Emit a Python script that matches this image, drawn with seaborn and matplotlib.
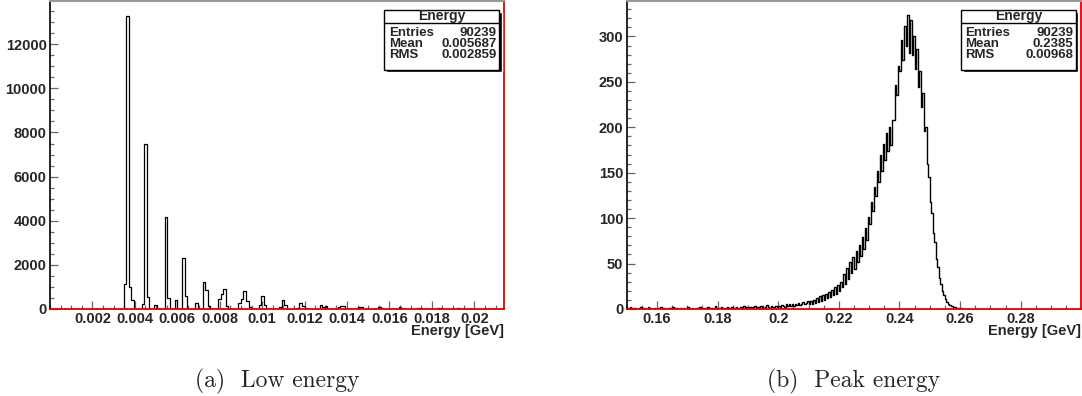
import numpy as np
import pandas as pd
import matplotlib
matplotlib.use('Agg')
import matplotlib.pyplot as plt
import seaborn as sns
from matplotlib.patches import Rectangle

# Low energy histogram, only the non-empty bins (bin centre in GeV, entries)
low_energy = [0.00354, 0.00366, 0.00378, 0.00390, 0.00438, 0.00450, 0.00462, 0.00498,
              0.00546, 0.00558, 0.00594, 0.00630, 0.00642, 0.00690, 0.00726, 0.00738,
              0.00750, 0.00798, 0.00810, 0.00822, 0.00834, 0.00894, 0.00906, 0.00918,
              0.00930, 0.00942, 0.00990, 0.01002, 0.01014, 0.01086, 0.01098, 0.01110,
              0.01170, 0.01182, 0.01194, 0.01278, 0.01290, 0.01302, 0.01362, 0.01374,
              0.01386, 0.01458, 0.01470, 0.01554, 0.01566, 0.01650, 0.01734, 0.01746,
              0.01830, 0.01842, 0.01926]
low_counts = [1130, 13300, 1010, 420, 230, 7480, 540, 180,
              4160, 520, 430, 2330, 600, 250, 1210, 860,
              120, 450, 700, 890, 140, 260, 450, 800,
              380, 100, 180, 600, 200, 80, 400, 170,
              60, 280, 120, 160, 90, 140, 90, 130,
              140, 80, 100, 90, 60, 70, 50, 40,
              40, 40, 25]
low_bin_width = 0.00012

# Peak energy histogram: entries per 0.0005 GeV bin, starting at 0.150 GeV
peak_start = 0.150
peak_bin_width = 0.0005
peak_counts = [
    1, 0, 2, 1, 0, 1, 0, 0, 1, 2, 0, 1, 0, 0, 2, 1, 0, 0, 1, 0,              # 0.15
    1, 0, 2, 0, 1, 0, 0, 1, 1, 0, 2, 0, 1, 0, 0, 1, 0, 1, 0, 0,              # 0.16
    2, 1, 0, 1, 0, 0, 1, 0, 2, 1, 1, 0, 1, 2, 0, 1, 1, 0, 3, 1,              # 0.17
    0, 1, 2, 1, 0, 1, 2, 1, 0, 2, 1, 1, 2, 0, 1, 2, 1, 3, 1, 2,              # 0.18
    0, 2, 1, 2, 3, 1, 2, 1, 3, 2, 1, 2, 4, 2, 1, 3, 2, 2, 3, 2,              # 0.19
    3, 2, 4, 3, 2, 5, 3, 6, 3, 5, 3, 6, 4, 7, 4, 6, 8, 5, 7, 9,              # 0.20
    6, 9, 5, 10, 7, 12, 8, 14, 9, 15, 10, 17, 12, 19, 13, 21, 15, 24, 17, 26,  # 0.21
    20, 30, 24, 38, 28, 45, 33, 52, 40, 57, 44, 64, 52, 70, 58, 79, 66, 89, 76, 101,  # 0.22
    94, 118, 108, 134, 124, 152, 140, 170, 152, 182, 164, 194, 174, 200, 180, 208,
    208, 246, 236, 268,                                                       # 0.23
    262, 296, 274, 312, 290, 324, 282, 318, 280, 300, 264, 286, 244, 262, 222, 238,
    196, 200, 160, 145,                                                       # 0.24
    118, 106, 84, 74, 55, 46, 34, 28, 20, 15, 11, 8, 6, 4, 3, 2, 2, 1, 1, 0,  # 0.25
    1, 0, 0, 0]

low_xticks = [0.002, 0.004, 0.006, 0.008, 0.010, 0.012, 0.014, 0.016, 0.018, 0.020]
low_xlabels = ['0.002', '0.004', '0.006', '0.008', '0.01', '0.012', '0.014', '0.016', '0.018', '0.02']
low_yticks = [0, 2000, 4000, 6000, 8000, 10000, 12000]
peak_xticks = [0.16, 0.18, 0.20, 0.22, 0.24, 0.26, 0.28]
peak_xlabels = ['0.16', '0.18', '0.2', '0.22', '0.24', '0.26', '0.28']
peak_yticks = [0, 50, 100, 150, 200, 250, 300]

stats_low = [('Entries', '90239'), ('Mean', '0.005687'), ('RMS', '0.002859')]
stats_peak = [('Entries', '90239'), ('Mean', '0.2385'), ('RMS', '0.00968')]

sns.set_style('white')
plt.rcParams['font.family'] = ['Liberation Sans', 'DejaVu Sans']
plt.rcParams['font.weight'] = 'bold'

fig = plt.figure(figsize=(10.82, 3.96), dpi=100)
ax1 = fig.add_axes([50 / 1082, 87 / 396, 454 / 1082, 308 / 396])
ax2 = fig.add_axes([626.7 / 1082, 87 / 396, 454 / 1082, 308 / 396])


def root_frame(ax, xlim, ylim, xticks, xlabels, xminor, yticks, yminor):
    ax.set_xlim(*xlim)
    ax.set_ylim(*ylim)
    ax.set_xticks(xticks, xlabels)
    ax.set_yticks(yticks, [str(t) for t in yticks])
    ax.set_xticks(np.arange(xlim[0], xlim[1], xminor), minor=True)
    ax.set_yticks(np.arange(0, ylim[1], yminor), minor=True)
    ax.tick_params(which='both', direction='in', color='#666666', width=0.9,
                   labelsize=10.5, top=False, right=False, bottom=True, left=True)
    ax.tick_params(which='major', length=6, pad=2.5)
    ax.tick_params(which='minor', length=3)
    ax.set_xlabel('')
    ax.set_ylabel('')
    ax.spines['left'].set_color('black')
    ax.spines['left'].set_linewidth(1.2)
    ax.spines['top'].set_color('#999999')
    ax.spines['top'].set_linewidth(1.5)
    for s in ['right', 'bottom']:
        ax.spines[s].set_color('#e00000')
        ax.spines[s].set_linewidth(1.3)
    ax.text(1.0, -0.073, 'Energy [GeV]', transform=ax.transAxes, ha='right',
            va='center', fontsize=10.5, fontweight='bold')


def stats_box(ax, rows):
    x0, x1, y0, y1 = 0.736, 0.990, 0.776, 0.972
    ax.add_patch(Rectangle((x0 + 0.0045, y0 - 0.0065), x1 - x0, y1 - y0,
                           transform=ax.transAxes, facecolor='black', zorder=5, clip_on=False))
    ax.add_patch(Rectangle((x0, y0), x1 - x0, y1 - y0, transform=ax.transAxes,
                           facecolor='white', edgecolor='black', lw=1, zorder=6, clip_on=False))
    ax.plot([x0, x1], [0.9296, 0.9296], transform=ax.transAxes, color='black', lw=1,
            zorder=7, clip_on=False)
    ax.text((x0 + x1) / 2, 0.951, 'Energy', transform=ax.transAxes, ha='center',
            va='center', fontsize=10, zorder=8)
    for i, (name, val) in enumerate(rows):
        y = 0.897 - i * 0.0357
        ax.text(x0 + 0.01, y, name, transform=ax.transAxes, ha='left', va='center',
                fontsize=9.5, zorder=8)
        ax.text(x1 - 0.006, y, val, transform=ax.transAxes, ha='right', va='center',
                fontsize=9.5, zorder=8)


# (a) low energy
low_df = pd.DataFrame({'energy': low_energy, 'entries': low_counts})
low_edges = list(np.arange(0, 0.0216, low_bin_width))
sns.histplot(data=low_df, x='energy', weights='entries', bins=low_edges, element='step',
             fill=False, color='black', linewidth=0.9, ax=ax1)
root_frame(ax1, (0.0, 0.0214), (0, 13960), low_xticks, low_xlabels, 0.0005,
           low_yticks, 500)
stats_box(ax1, stats_low)

# (b) peak energy
peak_edges = peak_start + np.arange(len(peak_counts) + 1) * peak_bin_width
peak_df = pd.DataFrame({'energy': peak_edges[:-1] + peak_bin_width / 2,
                        'entries': peak_counts})
sns.histplot(data=peak_df, x='energy', weights='entries', bins=list(peak_edges),
             element='step', fill=False, color='black', linewidth=1.0, ax=ax2)
root_frame(ax2, (0.150, 0.2998), (0, 339), peak_xticks, peak_xlabels, 0.005,
           peak_yticks, 10)
stats_box(ax2, stats_peak)

fig.text(277 / 1082, 1 - 381 / 396, '(a)  Low energy', family='cmr10', fontsize=17,
         fontweight='normal', ha='center', va='center')
fig.text(853.7 / 1082, 1 - 381 / 396, '(b)  Peak energy', family='cmr10', fontsize=17,
         fontweight='normal', ha='center', va='center')

fig.savefig('out.png', dpi=100)
